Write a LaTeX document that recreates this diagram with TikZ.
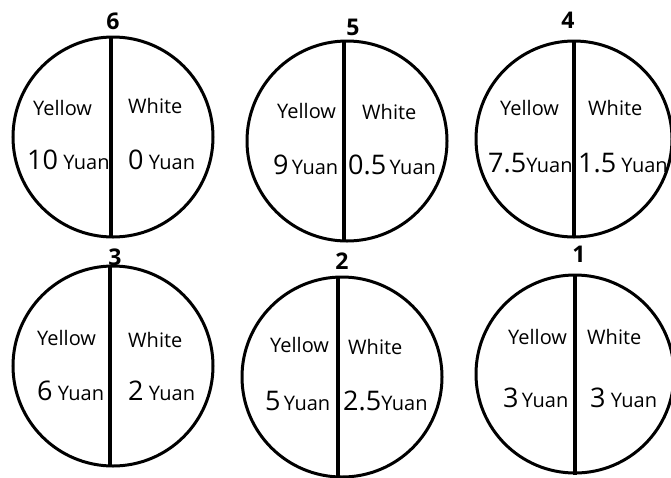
\documentclass[tikz,border=0pt]{standalone}
\usepackage{fontspec}
\setmainfont{Open Sans}
\newcommand{\bignum}[1]{{\fontsize{27}{27}\selectfont #1}}
\begin{document}
\begin{tikzpicture}[x=1pt, y=-1pt,
        ring/.style={line width=3pt},
        split/.style={line width=4pt},
        word/.style={anchor=base west, inner sep=0pt, font=\fontsize{20}{20}\selectfont},
        money/.style={anchor=base west, inner sep=0pt, font=\fontsize{20}{20}\selectfont},
        tag/.style={inner sep=0pt, font=\fontsize{23}{23}\selectfont\bfseries}]
        \useasboundingbox (0,0) rectangle (671,477);

        % top row
        \draw[ring] (113,137) circle (100pt);
        \draw[split] (111,37)--(111,237);
        \node[tag] (n6) at (113,21) {6};
        \node[word] (y6) at (33,115) {Yellow};
        \node[word] (w6) at (128,113) {White};
        \node[money] (ya6) at (27,169) {\bignum{10} Yuan};
        \node[money] (wa6) at (128,169) {\bignum{0} Yuan};

        \draw[ring] (347,141) circle (100pt);
        \draw[split] (344,40)--(344,241);
        \node[tag] (n5) at (353,27) {5};
        \node[word] (y5) at (277,118) {Yellow};
        \node[word] (w5) at (362,119) {White};
        \node[money] (ya5) at (273,174) {\bignum{9}\,Yuan};
        \node[money] (wa5) at (348,174) {\bignum{0.5}\,Yuan};

        \draw[ring] (574,139) circle (98pt);
        \draw[split] (574,40)--(574,237);
        \node[tag] (n4) at (568,20) {4};
        \node[word] (y4) at (500,115) {Yellow};
        \node[word] (w4) at (588,115) {White};
        \node[money] (ya4) at (488,172) {\bignum{7.5}Yuan};
        \node[money] (wa4) at (578,172) {\bignum{1.5} Yuan};

        % bottom row
        \draw[ring] (113,366) circle (100pt);
        \draw[split] (110,265)--(110,467);
        \node[tag] (n3) at (115,257) {3};
        \node[word] (y3) at (37,345) {Yellow};
        \node[word] (w3) at (128,347) {White};
        \node[money] (ya3) at (37,400) {\bignum{6} Yuan};
        \node[money] (wa3) at (128,400) {\bignum{2} Yuan};

        \draw[ring] (342,377) circle (100pt);
        \draw[split] (338,277)--(338,477);
        \node[tag] (n2) at (342,261) {2};
        \node[word] (y2) at (270,352) {Yellow};
        \node[word] (w2) at (348,354) {White};
        \node[money] (ya2) at (265,410) {\bignum{5}\,Yuan};
        \node[money] (wa2) at (343,410) {\bignum{2.5}Yuan};

        \draw[ring] (575,374) circle (99pt);
        \draw[split] (575,274)--(575,475);
        \node[tag] (n1) at (579,254) {1};
        \node[word] (y1) at (508,344) {Yellow};
        \node[word] (w1) at (587,344) {White};
        \node[money] (ya1) at (503,407) {\bignum{3}\,Yuan};
        \node[money] (wa1) at (590,407) {\bignum{3} Yuan};
\end{tikzpicture}
\end{document}
